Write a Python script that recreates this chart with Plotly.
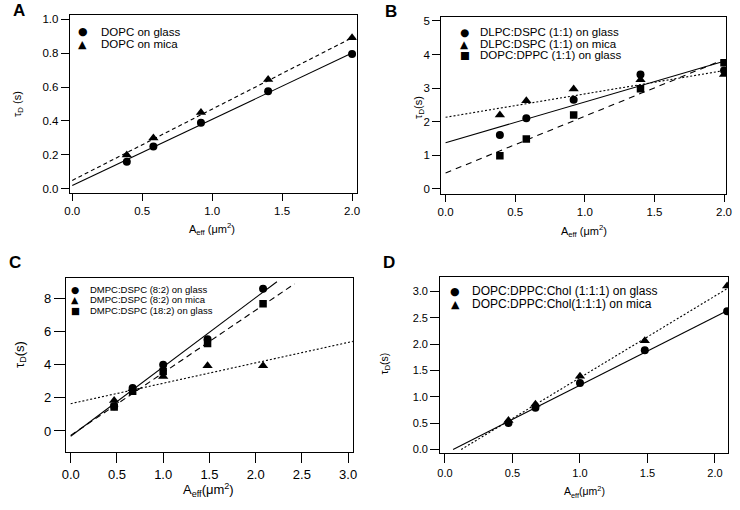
import plotly.graph_objects as go

W, H = 740, 510

# ---------------- data ----------------
# Panel A
a_x = [0.39, 0.58, 0.92, 1.40, 2.00]
a_glass = [0.16, 0.25, 0.39, 0.575, 0.795]
a_mica = [0.20, 0.30, 0.45, 0.645, 0.89]
a_fit_x = [0.0, 2.0]
a_fit_glass = [0.02, 0.80]
a_fit_mica = [0.05, 0.89]
a_labels = ["DOPC on glass", "DOPC on mica"]

# Panel B
b_x = [0.39, 0.58, 0.92, 1.40, 2.00]
b_dlpc_glass = [1.60, 2.10, 2.65, 3.40, 3.52]
b_dlpc_mica = [2.20, 2.62, 2.97, 3.25, 3.40]
b_dopc_glass = [0.98, 1.48, 2.20, 2.98, 3.75]
b_fit_x = [0.0, 2.0]
b_fit_dlpc_glass = [1.37, 3.80]
b_fit_dlpc_mica = [2.13, 3.52]
b_fit_dopc_glass = [0.47, 3.85]
b_labels = ["DLPC:DSPC (1:1) on glass", "DLPC:DSPC (1:1) on mica", "DOPC:DPPC (1:1) on glass"]

# Panel C
c_x = [0.47, 0.67, 1.00, 1.48, 2.08]
c_82_glass = [1.50, 2.60, 4.00, 5.55, 8.60]
c_82_mica = [1.85, 2.55, 3.30, 3.95, 3.95]
c_182_glass = [1.45, 2.40, 3.60, 5.30, 7.70]
c_fit_82_glass_x = [0.0, 2.23]
c_fit_82_glass = [-0.32, 9.03]
c_fit_82_mica_x = [0.0, 3.05]
c_fit_82_mica = [1.65, 5.42]
c_fit_182_glass_x = [0.0, 2.42]
c_fit_182_glass = [-0.27, 8.90]
c_labels = ["DMPC:DSPC (8:2) on glass", "DMPC:DSPC (8:2) on mica", "DMPC:DSPC (18:2) on glass"]

# Panel D
d_x = [0.47, 0.67, 1.00, 1.48, 2.09]
d_glass = [0.50, 0.79, 1.26, 1.88, 2.62]
d_mica = [0.55, 0.86, 1.39, 2.06, 3.10]
d_fit_glass_x = [0.06, 2.09]
d_fit_glass = [0.0, 2.63]
d_fit_mica_x = [0.12, 2.09]
d_fit_mica = [0.0, 3.05]
d_labels = ["DOPC:DPPC:Chol (1:1:1) on glass", "DOPC:DPPC:Chol(1:1:1) on mica"]

# ---------------- helpers ----------------
FONT = "Liberation Sans, Arial, sans-serif"
BLACK = "#000000"


def px_x(p):
    return p / W


def px_y(p):
    return 1 - p / H


fig = go.Figure()


def pts(x, y, ax, symbol, size):
    fig.add_trace(go.Scatter(
        x=x, y=y, mode="markers", xaxis="x" + ax, yaxis="y" + ax,
        marker=dict(symbol=symbol, size=size, color=BLACK, line=dict(width=0)),
        showlegend=False, hoverinfo="x+y"))


def fit(x, y, ax, dash, width=1.1):
    fig.add_trace(go.Scatter(
        x=x, y=y, mode="lines", xaxis="x" + ax, yaxis="y" + ax,
        line=dict(color=BLACK, width=width, dash=dash),
        showlegend=False, hoverinfo="skip"))


# Panel A
fit(a_fit_x, a_fit_glass, "", "solid")
fit(a_fit_x, a_fit_mica, "", "4px,3px")
pts(a_x, a_glass, "", "circle", 8)
pts(a_x, a_mica, "", "triangle-up", 9)

# Panel B
fit(b_fit_x, b_fit_dlpc_glass, "2", "solid")
fit(b_fit_x, b_fit_dlpc_mica, "2", "2px,2px")
fit(b_fit_x, b_fit_dopc_glass, "2", "6px,5px")
pts(b_x, b_dlpc_glass, "2", "circle", 8)
pts(b_x, b_dlpc_mica, "2", "triangle-up", 9)
pts(b_x, b_dopc_glass, "2", "square", 7.5)

# Panel C
fit(c_fit_82_glass_x, c_fit_82_glass, "3", "solid")
fit(c_fit_82_mica_x, c_fit_82_mica, "3", "2px,2px")
fit(c_fit_182_glass_x, c_fit_182_glass, "3", "6px,4px")
pts(c_x, c_82_glass, "3", "circle", 8)
pts(c_x, c_82_mica, "3", "triangle-up", 9)
pts(c_x, c_182_glass, "3", "square", 7.5)

# Panel D
fit(d_fit_glass_x, d_fit_glass, "4", "solid")
fit(d_fit_mica_x, d_fit_mica, "4", "2px,2px")
pts(d_x, d_glass, "4", "circle", 8)
pts(d_x, d_mica, "4", "triangle-up", 9)


def axis(domain, rng, tickvals, ticktext, fsize, anchor, tlen):
    return dict(
        domain=domain, range=rng, tickvals=tickvals, ticktext=ticktext,
        showline=True, mirror=True, linecolor=BLACK, linewidth=1,
        ticks="outside", ticklen=tlen, tickwidth=1, tickcolor=BLACK,
        showgrid=False, zeroline=False, anchor=anchor,
        tickfont=dict(family=FONT, size=fsize, color=BLACK))


a_xt = [0.0, 0.5, 1.0, 1.5, 2.0]
a_yt = [0.0, 0.2, 0.4, 0.6, 0.8, 1.0]
b_yt = [0, 1, 2, 3, 4, 5]
c_xt = [0.0, 0.5, 1.0, 1.5, 2.0, 2.5, 3.0]
c_yt = [0, 2, 4, 6, 8]
d_yt = [0.0, 0.5, 1.0, 1.5, 2.0, 2.5, 3.0]

fig.update_layout(
    width=W, height=H, margin=dict(l=0, r=0, t=0, b=0),
    paper_bgcolor="white", plot_bgcolor="white",
    showlegend=False,
    font=dict(family=FONT, color=BLACK),
    xaxis=axis([px_x(65.7), px_x(357)], [-0.018, 2.033], a_xt, ["%.1f" % v for v in a_xt], 11.5, "y", 7),
    yaxis=axis([px_y(193), px_y(13)], [-0.027, 1.025], a_yt, ["%.1f" % v for v in a_yt], 11.5, "x", 8),
    xaxis2=axis([px_x(442.7), px_x(732)], [-0.032, 2.015], a_xt, ["%.1f" % v for v in a_xt], 11.5, "y2", 7),
    yaxis2=axis([px_y(193.3), px_y(15)], [-0.15, 5.12], b_yt, [str(v) for v in b_yt], 11.5, "x2", 8),
    xaxis3=axis([px_x(61.7), px_x(353.3)], [-0.053, 3.053], c_xt, ["%.1f" % v for v in c_xt], 13, "y3", 10),
    yaxis3=axis([px_y(454), px_y(278.3)], [-1.3, 9.25], c_yt, [str(v) for v in c_yt], 13, "x3", 11),
    xaxis4=axis([px_x(441.7), px_x(734)], [-0.036, 2.097], a_xt, ["%.1f" % v for v in a_xt], 11, "y4", 9),
    yaxis4=axis([px_y(455), px_y(276.7)], [-0.075, 3.28], d_yt, ["%.1f" % v for v in d_yt], 11, "x4", 9),
)

ann = []


def text(x, y, s, size, xanchor="center", angle=0, bold=False, family=FONT):
    ann.append(dict(
        x=px_x(x), y=px_y(y), xref="paper", yref="paper", text=("<b>%s</b>" % s) if bold else s,
        showarrow=False, xanchor=xanchor, yanchor="middle", textangle=angle, borderpad=0,
        font=dict(family=family, size=size, color=BLACK)))


# panel letters
text(14, 9, "A", 17, bold=True)
text(392, 10, "B", 17, bold=True)
text(10, 263, "C", 17, bold=True)
text(390, 263, "D", 17, bold=True)

# axis titles
tau = "τ<sub>D</sub>"
text(13, 103, tau + " (s)", 11, angle=-90)
text(210, 229, "A<sub>eff</sub> (μm<sup>2</sup>)", 11)
text(420, 106, tau + "(s)", 11, angle=-90)
text(588, 231, "A<sub>eff</sub> (μm<sup>2</sup>)", 11)
text(15, 355, tau + "(s)", 13, angle=-90)
text(207, 492, "A<sub>eff</sub>(μm<sup>2</sup>)", 13)
text(386, 364, tau + "(s)", 10.5, angle=-90)
text(588, 494, "A<sub>eff</sub>(μm<sup>2</sup>)", 10.5)

# legends (symbol glyph + label)
SYM = "DejaVu Sans"
glyphs = {"circle": "●", "triangle": "▲", "square": "■"}


def legend(sx, tx, ys, symbols, labels, fsize, gsize):
    for y, s, lab in zip(ys, symbols, labels):
        text(sx, y, glyphs[s], gsize, family=SYM)
        text(tx, y, lab, fsize, xanchor="left")


legend(79, 96, [30, 42.5], ["circle", "triangle"], a_labels, 11.5, 11)
legend(466.5, 481.5, [30.3, 42, 53.7], ["circle", "triangle", "square"], b_labels, 11.5, 10.5)
legend(71.5, 85, [289.5, 299.8, 311], ["circle", "triangle", "square"], c_labels, 9.5, 9.5)
legend(457, 473, [291.5, 304.5], ["circle", "triangle"], d_labels, 12, 11)

fig.update_layout(annotations=ann)
fig.write_html("out.html", config={"displayModeBar": False},
               post_script="document.body.style.margin='0';document.body.style.padding='0';")
